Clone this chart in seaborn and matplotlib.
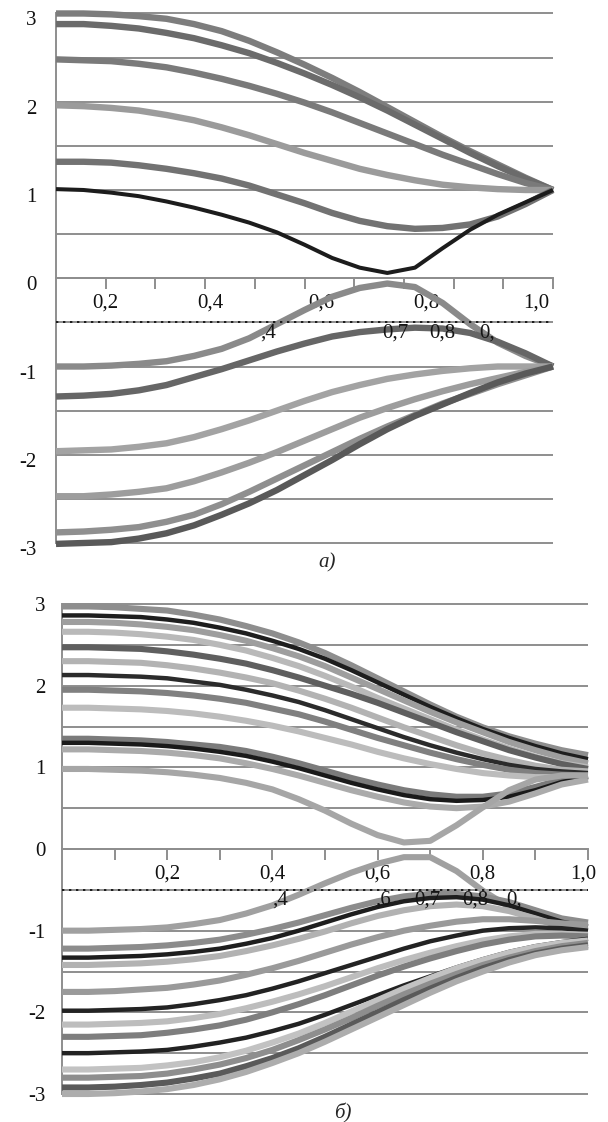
"""
Two-panel family of curves (а, б) redrawn with seaborn
"""
import numpy as np
import pandas as pd
import matplotlib
matplotlib.use('Agg')
import matplotlib.pyplot as plt
import seaborn as sns
from matplotlib.transforms import ScaledTranslation, Bbox, TransformedBbox

# ================================================================================
# DATA
# ================================================================================

# panel а: x from 0.1 to 1.0
x_a = [0.10, 0.15, 0.20, 0.25, 0.30, 0.35, 0.40, 0.45, 0.50, 0.55,
       0.60, 0.65, 0.70, 0.75, 0.80, 0.85, 0.90, 0.95, 1.00]

a_u1 = [3.00, 3.00, 2.99, 2.97, 2.94, 2.88, 2.80, 2.69, 2.56, 2.42, 2.27, 2.11, 1.94, 1.77, 1.60, 1.44, 1.29, 1.14, 1.00]
a_u2 = [2.88, 2.88, 2.86, 2.83, 2.78, 2.72, 2.64, 2.55, 2.44, 2.32, 2.19, 2.05, 1.90, 1.74, 1.58, 1.42, 1.27, 1.13, 1.00]
a_u3 = [2.48, 2.47, 2.46, 2.43, 2.39, 2.33, 2.26, 2.18, 2.09, 1.99, 1.88, 1.76, 1.64, 1.52, 1.40, 1.29, 1.18, 1.08, 1.00]
a_u4 = [1.96, 1.95, 1.93, 1.90, 1.85, 1.79, 1.71, 1.62, 1.52, 1.42, 1.33, 1.24, 1.17, 1.11, 1.06, 1.03, 1.01, 1.00, 1.00]
a_u5 = [1.32, 1.32, 1.31, 1.28, 1.24, 1.19, 1.13, 1.05, 0.95, 0.85, 0.74, 0.65, 0.59, 0.56, 0.57, 0.61, 0.70, 0.84, 1.00]
a_u6 = [1.01, 1.00, 0.97, 0.93, 0.87, 0.80, 0.72, 0.63, 0.52, 0.38, 0.23, 0.12, 0.06, 0.12, 0.34, 0.55, 0.72, 0.86, 1.00]
a_l1 = [-1.00, -1.00, -0.99, -0.97, -0.94, -0.88, -0.80, -0.68, -0.52, -0.36, -0.21, -0.11, -0.06, -0.10, -0.28, -0.52, -0.73, -0.88, -1.00]
a_l2 = [-1.34, -1.33, -1.31, -1.27, -1.21, -1.12, -1.03, -0.93, -0.83, -0.74, -0.66, -0.61, -0.58, -0.56, -0.57, -0.62, -0.72, -0.85, -1.00]
a_l3 = [-1.96, -1.95, -1.94, -1.91, -1.87, -1.80, -1.71, -1.61, -1.50, -1.39, -1.29, -1.21, -1.14, -1.09, -1.05, -1.02, -1.00, -1.00, -1.00]
a_l4 = [-2.47, -2.47, -2.45, -2.42, -2.38, -2.30, -2.20, -2.09, -1.97, -1.84, -1.71, -1.58, -1.47, -1.37, -1.28, -1.20, -1.13, -1.06, -1.00]
a_l5 = [-2.88, -2.87, -2.85, -2.82, -2.76, -2.68, -2.56, -2.42, -2.27, -2.12, -1.97, -1.82, -1.68, -1.55, -1.42, -1.31, -1.20, -1.10, -1.00]
a_l6 = [-3.01, -3.00, -2.99, -2.95, -2.89, -2.80, -2.68, -2.55, -2.40, -2.23, -2.06, -1.88, -1.71, -1.56, -1.43, -1.30, -1.18, -1.08, -1.00]

# panel б: x from 0 to 1.0
x_b = [0.00, 0.05, 0.10, 0.15, 0.20, 0.25, 0.30, 0.35, 0.40, 0.45, 0.50,
       0.55, 0.60, 0.65, 0.70, 0.75, 0.80, 0.85, 0.90, 0.95, 1.00]

b_u1 = [2.97, 2.97, 2.96, 2.94, 2.92, 2.87, 2.81, 2.73, 2.64, 2.53, 2.40, 2.25, 2.09, 1.93, 1.77, 1.62, 1.49, 1.38, 1.29, 1.21, 1.15]
b_u2 = [2.86, 2.86, 2.85, 2.84, 2.81, 2.77, 2.71, 2.64, 2.55, 2.45, 2.33, 2.19, 2.04, 1.89, 1.74, 1.60, 1.47, 1.36, 1.26, 1.17, 1.10]
b_u3 = [2.78, 2.78, 2.77, 2.75, 2.72, 2.68, 2.62, 2.55, 2.46, 2.36, 2.24, 2.10, 1.96, 1.82, 1.68, 1.55, 1.43, 1.31, 1.21, 1.12, 1.05]
b_u4 = [2.66, 2.66, 2.65, 2.63, 2.60, 2.56, 2.50, 2.43, 2.34, 2.24, 2.12, 1.99, 1.85, 1.72, 1.59, 1.46, 1.34, 1.23, 1.13, 1.05, 1.00]
b_u5 = [2.47, 2.47, 2.46, 2.45, 2.42, 2.38, 2.33, 2.27, 2.19, 2.10, 2.00, 1.90, 1.79, 1.67, 1.55, 1.43, 1.32, 1.21, 1.12, 1.04, 0.98]
b_u6 = [2.30, 2.30, 2.29, 2.28, 2.25, 2.21, 2.16, 2.10, 2.03, 1.94, 1.84, 1.73, 1.61, 1.49, 1.38, 1.27, 1.17, 1.09, 1.02, 0.97, 0.95]
b_u7 = [2.13, 2.13, 2.12, 2.11, 2.09, 2.05, 2.01, 1.95, 1.88, 1.80, 1.70, 1.59, 1.48, 1.37, 1.27, 1.18, 1.10, 1.03, 0.98, 0.95, 0.93]
b_u8 = [1.95, 1.95, 1.94, 1.93, 1.91, 1.88, 1.84, 1.79, 1.72, 1.65, 1.56, 1.46, 1.36, 1.27, 1.18, 1.10, 1.03, 0.97, 0.93, 0.91, 0.90]
b_u9 = [1.73, 1.73, 1.72, 1.71, 1.69, 1.66, 1.62, 1.57, 1.51, 1.44, 1.36, 1.28, 1.19, 1.11, 1.04, 0.98, 0.93, 0.90, 0.88, 0.88, 0.88]
b_u10 = [1.35, 1.35, 1.34, 1.33, 1.31, 1.28, 1.25, 1.20, 1.13, 1.05, 0.96, 0.87, 0.79, 0.72, 0.67, 0.64, 0.64, 0.68, 0.76, 0.85, 0.90]
b_u11 = [1.30, 1.30, 1.29, 1.28, 1.26, 1.23, 1.19, 1.14, 1.07, 0.99, 0.90, 0.81, 0.73, 0.66, 0.61, 0.59, 0.60, 0.64, 0.72, 0.82, 0.88]
b_u12 = [1.22, 1.22, 1.21, 1.20, 1.18, 1.15, 1.11, 1.05, 0.98, 0.90, 0.81, 0.72, 0.64, 0.57, 0.52, 0.50, 0.52, 0.58, 0.68, 0.79, 0.85]
b_u13 = [0.98, 0.98, 0.97, 0.96, 0.94, 0.91, 0.87, 0.81, 0.73, 0.61, 0.47, 0.31, 0.17, 0.08, 0.10, 0.29, 0.51, 0.72, 0.85, 0.90, 0.90]
b_l1 = [-1.00, -1.00, -0.99, -0.98, -0.96, -0.92, -0.87, -0.79, -0.69, -0.56, -0.42, -0.29, -0.18, -0.10, -0.10, -0.27, -0.51, -0.71, -0.86, -0.93, -0.95]
b_l2 = [-1.22, -1.22, -1.21, -1.20, -1.18, -1.15, -1.11, -1.05, -0.98, -0.90, -0.81, -0.72, -0.64, -0.58, -0.55, -0.55, -0.58, -0.65, -0.75, -0.85, -0.90]
b_l3 = [-1.33, -1.33, -1.32, -1.31, -1.29, -1.26, -1.22, -1.16, -1.09, -1.00, -0.90, -0.80, -0.71, -0.64, -0.60, -0.59, -0.62, -0.69, -0.79, -0.89, -0.95]
b_l4 = [-1.42, -1.42, -1.41, -1.40, -1.38, -1.35, -1.31, -1.25, -1.18, -1.10, -1.01, -0.91, -0.82, -0.75, -0.70, -0.68, -0.70, -0.76, -0.85, -0.95, -1.00]
b_l5 = [-1.75, -1.75, -1.74, -1.72, -1.70, -1.66, -1.61, -1.54, -1.46, -1.37, -1.27, -1.17, -1.08, -1.00, -0.94, -0.89, -0.86, -0.86, -0.88, -0.91, -0.93]
b_l6 = [-1.98, -1.98, -1.97, -1.96, -1.94, -1.90, -1.85, -1.79, -1.71, -1.62, -1.52, -1.42, -1.32, -1.22, -1.13, -1.06, -1.00, -0.97, -0.96, -0.97, -1.00]
b_l7 = [-2.15, -2.15, -2.14, -2.13, -2.11, -2.07, -2.02, -1.95, -1.87, -1.78, -1.68, -1.57, -1.46, -1.36, -1.27, -1.19, -1.12, -1.07, -1.04, -1.04, -1.05]
b_l8 = [-2.30, -2.30, -2.29, -2.28, -2.25, -2.21, -2.16, -2.09, -2.00, -1.90, -1.79, -1.67, -1.55, -1.44, -1.34, -1.25, -1.17, -1.11, -1.07, -1.06, -1.07]
b_l9 = [-2.50, -2.50, -2.49, -2.48, -2.46, -2.42, -2.37, -2.31, -2.23, -2.14, -2.03, -1.91, -1.79, -1.67, -1.56, -1.45, -1.35, -1.26, -1.19, -1.14, -1.10]
b_l10 = [-2.70, -2.70, -2.69, -2.68, -2.65, -2.61, -2.55, -2.47, -2.37, -2.26, -2.13, -1.99, -1.85, -1.71, -1.58, -1.46, -1.36, -1.27, -1.20, -1.15, -1.12]
b_l11 = [-2.80, -2.80, -2.79, -2.78, -2.75, -2.70, -2.64, -2.56, -2.46, -2.34, -2.21, -2.07, -1.92, -1.78, -1.65, -1.53, -1.42, -1.33, -1.25, -1.19, -1.15]
b_l12 = [-2.92, -2.92, -2.91, -2.89, -2.86, -2.81, -2.75, -2.66, -2.56, -2.44, -2.30, -2.15, -2.00, -1.85, -1.71, -1.58, -1.46, -1.36, -1.28, -1.22, -1.18]
b_l13 = [-3.00, -3.00, -2.99, -2.97, -2.94, -2.89, -2.82, -2.73, -2.62, -2.50, -2.36, -2.21, -2.06, -1.91, -1.76, -1.62, -1.50, -1.39, -1.30, -1.24, -1.20]

# axis texts
y_levels = [3, 2.5, 2, 1.5, 1, 0.5, 0, -0.5, -1, -1.5, -2, -2.5, -3]
y_labels = ['3', '', '2', '', '1', '', '0', '', '-1', '', '-2', '', '-3']
x_labels = ['0,2', '0,4', '0,6', '0,8', '1,0']
ghost_a = [',4', '0,7', '0,8', '0,']
ghost_b = [',4', ',6', '0,7', '0,8', '0,']
panel_labels = ['а)', 'б)']

# ================================================================================
# STYLE
# ================================================================================

names_a = ['u1', 'u2', 'u3', 'u4', 'u5', 'u6', 'l1', 'l2', 'l3', 'l4', 'l5', 'l6']
colors_a = ['#7d7d7d', '#6b6b6b', '#7a7a7a', '#9b9b9b', '#727272', '#1c1c1c',
            '#8a8a8a', '#666666', '#a3a3a3', '#9d9d9d', '#8f8f8f', '#595959']
widths_a = [4.6, 4.6, 4.6, 4.6, 4.6, 2.9, 4.6, 4.6, 4.6, 4.6, 4.6, 4.6]

names_b = ['u1', 'u2', 'u3', 'u4', 'u5', 'u6', 'u7', 'u8', 'u9', 'u10', 'u11', 'u12', 'u13',
           'l1', 'l2', 'l3', 'l4', 'l5', 'l6', 'l7', 'l8', 'l9', 'l10', 'l11', 'l12', 'l13']
colors_b = ['#8e8e8e', '#1e1e1e', '#9e9e9e', '#b9b9b9', '#5f5f5f', '#b3b3b3', '#2b2b2b',
            '#808080', '#bcbcbc', '#7b7b7b', '#1a1a1a', '#ababab', '#a6a6a6',
            '#a0a0a0', '#8c8c8c', '#1e1e1e', '#b2b2b2', '#9a9a9a', '#232323', '#bdbdbd',
            '#7e7e7e', '#222222', '#c2c2c2', '#8e8e8e', '#5a5a5a', '#adadad']
widths_b = [4.4, 3.2, 4.4, 4.4, 4.4, 4.4, 3.2, 4.4, 4.4, 4.4, 3.2, 4.4, 4.4,
            4.4, 4.4, 3.2, 4.4, 4.4, 3.2, 4.4, 4.4, 3.2, 4.4, 4.4, 4.4, 4.4]

GRID = '#8e8e8e'
FS = 15

sns.set_style('white')
plt.rcParams['font.family'] = ['Liberation Serif', 'DejaVu Serif']
plt.rcParams['axes.unicode_minus'] = False


def draw_panel(fig, ax, x, series, names, colors, widths, xlim, major, label_pos,
               ypad, ylab_shift, ghosts, ghost_pos):
    rows = []
    for name, ys in zip(names, series):
        for xv, yv in zip(x, ys):
            rows.append((name, xv, yv))
    df = pd.DataFrame(rows, columns=['curve', 'x', 'y'])

    sns.lineplot(data=df, x='x', y='y', hue='curve', hue_order=names,
                 palette=dict(zip(names, colors)), size='curve', size_order=names,
                 sizes=dict(zip(names, widths)), estimator=None, sort=False,
                 errorbar=None, legend=False, ax=ax, zorder=3, clip_on=False,
                 solid_capstyle='butt', solid_joinstyle='round')

    ax.set_xlim(*xlim)
    ax.set_ylim(-3.06, 3.06)
    ax.set_xlabel('')
    ax.set_ylabel('')

    # horizontal grid, y labels
    ax.set_yticks(y_levels, y_labels)
    ax.grid(axis='y', color=GRID, linewidth=1.4)
    ax.grid(axis='x', visible=False)
    ax.set_axisbelow(True)
    ax.tick_params(axis='y', left=False, length=0, pad=ypad, labelsize=FS, labelcolor='#111111')
    if ylab_shift:
        for lab in ax.get_yticklabels():
            lab.set_transform(lab.get_transform()
                              + ScaledTranslation(0, ylab_shift, fig.dpi_scale_trans))

    # spines
    for s in ['top', 'right']:
        ax.spines[s].set_visible(False)
    ax.spines['left'].set_bounds(-3, 3)
    ax.spines['left'].set_color(GRID)
    ax.spines['left'].set_linewidth(1.4)
    ax.spines['bottom'].set_position(('data', 0))
    ax.spines['bottom'].set_color(GRID)
    ax.spines['bottom'].set_linewidth(1.4)

    # x ticks on the zero line
    ax.xaxis.remove_overlapping_locs = False
    ax.set_xticks(major, [''] * len(major))
    ax.set_xticks(label_pos, x_labels, minor=True)
    ax.tick_params(axis='x', which='major', bottom=True, direction='out', length=8,
                   width=1.4, color=GRID)
    ax.tick_params(axis='x', which='minor', bottom=True, length=0, pad=11, labelsize=FS,
                   labelcolor='#111111')

    # dotted line with the half-hidden labels of an older axis
    ax.axhline(-0.5, color='#1a1a1a', linewidth=1.4, linestyle=(0, (1.2, 2.4)), zorder=5)
    clip = TransformedBbox(Bbox([[xlim[0], -3.0], [xlim[1], -0.5]]), ax.transData)
    shift = ScaledTranslation(0, -0.01, fig.dpi_scale_trans)
    for txt, xv in zip(ghosts, ghost_pos):
        t = ax.text(xv, -0.5, txt, ha='center', va='top', fontsize=FS, color='#151515',
                    zorder=4, transform=ax.transData + shift)
        t.set_clip_box(clip)
        t.set_clip_on(True)


# ================================================================================
# FIGURE
# ================================================================================

fig = plt.figure(figsize=(6.08, 11.22), dpi=100)
W, H = 608, 1122

ax_a = fig.add_axes([56 / W, 1 - 548.3 / H, 497 / W, 540.1 / H])
draw_panel(fig, ax_a, x_a,
           [a_u1, a_u2, a_u3, a_u4, a_u5, a_u6, a_l1, a_l2, a_l3, a_l4, a_l5, a_l6],
           names_a, colors_a, widths_a,
           xlim=(0.1, 1.0), major=np.linspace(0.19, 1.0, 10),
           label_pos=[0.19, 0.38, 0.58, 0.77, 0.97],
           ypad=14, ylab_shift=-0.05,
           ghosts=ghost_a, ghost_pos=[0.485, 0.715, 0.80, 0.88])

ax_b = fig.add_axes([62 / W, 1 - 1098.9 / H, 526 / W, 499.8 / H])
draw_panel(fig, ax_b, x_b,
           [b_u1, b_u2, b_u3, b_u4, b_u5, b_u6, b_u7, b_u8, b_u9, b_u10, b_u11, b_u12, b_u13,
            b_l1, b_l2, b_l3, b_l4, b_l5, b_l6, b_l7, b_l8, b_l9, b_l10, b_l11, b_l12, b_l13],
           names_b, colors_b, widths_b,
           xlim=(0.0, 1.0), major=np.linspace(0.1, 1.0, 10),
           label_pos=[0.2, 0.4, 0.6, 0.8, 0.99],
           ypad=12, ylab_shift=0.0,
           ghosts=ghost_b, ghost_pos=[0.415, 0.61, 0.695, 0.785, 0.86])

fig.text(327 / W, 1 - 563 / H, panel_labels[0], ha='center', va='center',
         fontsize=FS, style='italic')
fig.text(343 / W, 1 - 1113 / H, panel_labels[1], ha='center', va='center',
         fontsize=FS, style='italic')

fig.savefig('out.png', dpi=100, facecolor='white')
